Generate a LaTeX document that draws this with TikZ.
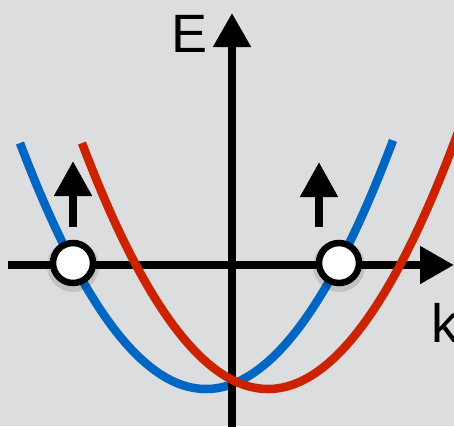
\documentclass[tikz,border=0pt]{standalone}
\usepackage{fontspec}
\setmainfont{Liberation Sans}
\usetikzlibrary{arrows.meta}
\definecolor{bg}{RGB}{220,221,223}
\definecolor{bandblue}{RGB}{0,102,196}
\definecolor{bandred}{RGB}{204,34,0}
\tikzset{
  axisline/.style={line width=8pt,-{Triangle[width=36pt,length=34pt]}},
  spinarrow/.style={line width=8pt,-{Triangle[width=36pt,length=35pt]}},
  band/.style={line width=8.5pt,line cap=butt},
  holecirc/.style={circle,draw=black,fill=white,line width=6.5pt,minimum size=40pt,inner sep=0pt},
  shadowcirc/.style={circle,fill=black,opacity=0.12,minimum size=52pt,inner sep=0pt},
  lbl/.style={inner sep=0pt,font=\fontsize{54}{54}\selectfont}
}
\begin{document}
\begin{tikzpicture}[x=1pt,y=-1pt]
\fill[bg] (0,0) rectangle (454,426);
\useasboundingbox (0,0) rectangle (454,426);
% blue band (under axes)
\draw[band,bandblue] plot[domain=20:393,samples=120,smooth] (\x,{389-((\x-206)*0.08432)^2});
% axes
\coordinate (xs) at (8,265);
\coordinate (xe) at (454,265);
\coordinate (ys) at (232,430);
\coordinate (ye) at (232,13);
\draw[axisline] (xs) -- (xe);
\draw[axisline] (ys) -- (ye);
% red band
\draw[band,bandred] plot[domain=82:470,samples=120,smooth] (\x,{389-((\x-268)*0.08432)^2});
% holes
\node[shadowcirc] (s1) at (73,266) {};
\node[shadowcirc] (s2) at (339,266) {};
\node[holecirc] (c1) at (73,263) {};
\node[holecirc] (c2) at (339,263) {};
% spin arrows
\coordinate (a1s) at (73,227);
\coordinate (a1e) at (73,161);
\coordinate (a2s) at (319,227);
\coordinate (a2e) at (319,162);
\draw[spinarrow] (a1s) -- (a1e);
\draw[spinarrow] (a2s) -- (a2e);
% labels
\node[lbl,anchor=base west] (E) at (171,52) {E};
\node[lbl,anchor=base west] (k) at (431,342) {k};
\end{tikzpicture}
\end{document}
